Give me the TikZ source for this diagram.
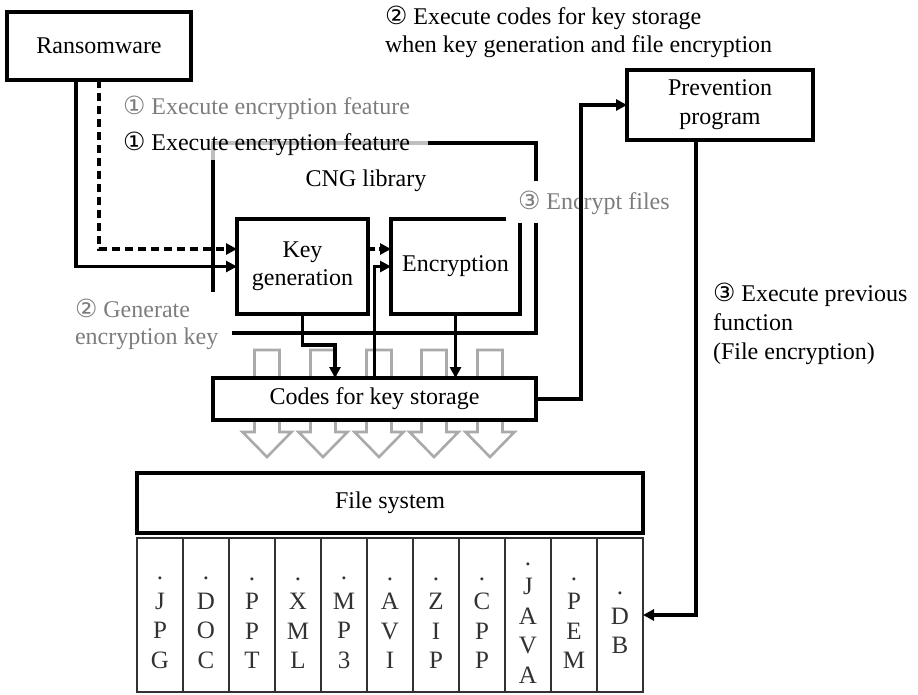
\documentclass[tikz,border=0pt]{standalone}
\usepackage{fontspec}
\setmainfont{Liberation Serif}
\newfontfamily\circfont{DejaVu Sans}
\usetikzlibrary{arrows.meta}
\definecolor{lg}{RGB}{125,125,125}
\definecolor{arrg}{RGB}{170,170,170}
\definecolor{fr}{RGB}{190,190,190}
\definecolor{dk}{RGB}{50,50,50}
\newcommand\cn[1]{{\circfont\fontsize{25}{25}\selectfont #1}}
\begin{document}
\begin{tikzpicture}[x=1pt,y=-1pt,
  every node/.style={font=\fontsize{24}{28}\selectfont, inner sep=0pt, outer sep=0pt},
  box/.style={draw, line width=3.3pt, fill=white, align=center},
  conn/.style={line width=3.1pt, -{Triangle[length=11pt,width=11pt]}},
  thick line/.style={line width=3.1pt},
  col/.style={draw=dk, line width=2.6pt, minimum width=46pt, minimum height=154pt},
  coltext/.style={text=dk, align=center, font=\fontsize{25}{29.5}\selectfont},
  hollow/.style={draw=arrg, line width=2.6pt, fill=white}]
\useasboundingbox (0,0) rectangle (918,694);

% CNG library frame
\draw[thick line, fr] (213,160) -- (213,143) -- (428,143);
\draw[thick line] (428,143) -- (536,143) -- (536,181);
\draw[thick line] (536,223) -- (536,333) -- (232,333);
\draw[thick line] (213,160) -- (213,292);

% hollow arrows
\foreach \cx in {267,323,379,434,490}
  \draw[hollow] ({\cx-12.5},350) -- ({\cx+12.5},350) -- ({\cx+12.5},432) -- ({\cx+24.5},432)
     -- (\cx,457) -- ({\cx-24.5},432) -- ({\cx-12.5},432) -- cycle;

% boxes
\node[box, minimum width=184pt, minimum height=68pt] (ransom) at (99,46) {Ransomware};
\node[box, minimum width=186pt, minimum height=70pt, font=\fontsize{24}{29}\selectfont] (prev) at (720,105) {Prevention\\program};
\node[box, minimum width=323pt, minimum height=42pt] (codes) at (374.5,399) {Codes for key storage};
\node[box, minimum width=131pt, minimum height=95pt] (keygen) at (302.5,266.5) {Key\\generation};
\node[minimum width=129pt, minimum height=95pt] (enc) at (455.5,266.5) {Encryption};
\draw[thick line] ([xshift=-14pt]enc.north east) -- (enc.north west) -- (enc.south west)
   -- (enc.south east) -- ([yshift=-4pt]enc.north east);
\node[box, minimum width=506pt, minimum height=60pt] (fs) at (390,503) {File system};

% file columns
\foreach \t [count=\i from 0] in {{.\\J\\P\\G},{.\\D\\O\\C},{.\\P\\P\\T},{.\\X\\M\\L},{.\\M\\P\\3},{.\\A\\V\\I},{.\\Z\\I\\P},{.\\C\\P\\P},{.\\J\\A\\V\\A},{.\\P\\E\\M},{.\\D\\B}} {
  \node[col] (c\i) at ({160+46*\i},615) {};
  \node[coltext] (t\i) at ([yshift=-8pt]c\i.center) {\t};
}

% connectors
\draw[conn] ([xshift=-23pt]ransom.south) |- (keygen.west);
\draw[conn, dash pattern=on 8pt off 5pt] (ransom.south) |- ([yshift=17.5pt]keygen.west);
\draw[conn, dash pattern=on 7pt off 4pt] ([yshift=17.5pt]keygen.east) -- ([yshift=17.5pt]enc.west);
\draw[conn] (codes.north) |- (enc.west);
\draw[conn] (keygen.south) -- ++(0,31) -| ([xshift=-39.5pt]codes.north);
\draw[conn] (enc.south) -- (enc.south |- codes.north);

% labels
\node[anchor=west, text=lg] (l1g) at (123,108) {\cn{①} Execute encryption feature};
\node[anchor=west] (l1) at (123,144) {\cn{①} Execute encryption feature};
\node (cng) at (366,181) {CNG library};
\node[anchor=west, text=lg] (l3g) at (518,203) {\cn{③} Encrypt files};
\node[anchor=west, align=left, text=lg, font=\fontsize{24}{27}\selectfont] (l2g) at (75,324) {\cn{②} Generate\\encryption key};
\node[anchor=west, align=left] (top) at (385,32) {\cn{②} Execute codes for key storage\\when key generation and file encryption};
\node[anchor=west, align=left, font=\fontsize{24}{29}\selectfont] (l3) at (713,324) {\cn{③} Execute previous\\function\\(File encryption)};

\draw[conn] (codes.east) -- ++(45,0) |- (prev.west);
\draw[conn] ([xshift=-24pt]prev.south) |- (c10.east);
\end{tikzpicture}
\end{document}
